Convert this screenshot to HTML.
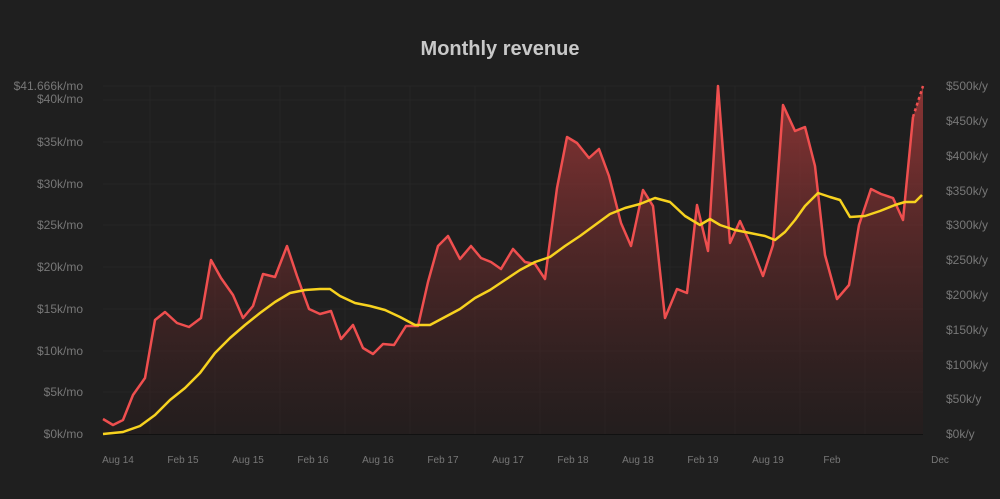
<!DOCTYPE html>
<html><head><meta charset="utf-8"><style>
html,body{margin:0;padding:0;background:#1f1f1f;}
svg{display:block;font-family:"Liberation Sans",sans-serif;}
</style></head><body>
<svg width="1000" height="499" viewBox="0 0 1000 499">
<defs>
<linearGradient id="g" x1="0" y1="86" x2="0" y2="434" gradientUnits="userSpaceOnUse">
<stop offset="0" stop-color="#a83a3a" stop-opacity="0.8"/>
<stop offset="1" stop-color="#2a1c1c" stop-opacity="0.4"/>
</linearGradient>
</defs>
<rect width="1000" height="499" fill="#1f1f1f"/>
<text x="500" y="55" text-anchor="middle" fill="#c8c8c8" font-size="20" font-weight="bold">Monthly revenue</text>
<g stroke="#262626" stroke-width="1">
<line x1="103" y1="86" x2="923" y2="86"/>
<line x1="103" y1="100" x2="923" y2="100"/><line x1="103" y1="142" x2="923" y2="142"/><line x1="103" y1="184" x2="923" y2="184"/><line x1="103" y1="225" x2="923" y2="225"/><line x1="103" y1="267" x2="923" y2="267"/><line x1="103" y1="309" x2="923" y2="309"/><line x1="103" y1="351" x2="923" y2="351"/><line x1="103" y1="392" x2="923" y2="392"/>
<line x1="150" y1="86" x2="150" y2="434"/><line x1="215" y1="86" x2="215" y2="434"/><line x1="280" y1="86" x2="280" y2="434"/><line x1="345" y1="86" x2="345" y2="434"/><line x1="410" y1="86" x2="410" y2="434"/><line x1="475" y1="86" x2="475" y2="434"/><line x1="540" y1="86" x2="540" y2="434"/><line x1="605" y1="86" x2="605" y2="434"/><line x1="670" y1="86" x2="670" y2="434"/><line x1="735" y1="86" x2="735" y2="434"/><line x1="800" y1="86" x2="800" y2="434"/><line x1="865" y1="86" x2="865" y2="434"/>
</g>
<polygon fill="url(#g)" points="103,434 103,419 113,425 123,420 133,395 145,378 155,320 165,312 177,323 189,327 201,318 211,260 221,278 233,295 243,318 253,306 263,274 275,277 287,246 297,276 309,309 320,314 331,311 341,339 353,325 363,348 373,354 383,344 394,345 406,326 418,326 428,282 438,246 448,236 460,259 471,246 481,258 491,262 501,269 513,249 525,262 535,264 545,279 557,188 567,137 577,143 589,158 599,149 609,176 621,223 631,246 643,190 653,206 665,318 677,289 687,293 697,205 708,251 718,86 730,243 740,221 750,243 763,276 773,245 783,105 795,131 805,127 815,166 825,255 837,299 849,285 859,225 871,189 881,194 893,198 903,220 913,117 923,86 923,434"/>
<line x1="103" y1="434.5" x2="923" y2="434.5" stroke="#111" stroke-width="1"/>
<polyline fill="none" stroke="#ef4f4f" stroke-width="2.5" stroke-linejoin="round" points="103,419 113,425 123,420 133,395 145,378 155,320 165,312 177,323 189,327 201,318 211,260 221,278 233,295 243,318 253,306 263,274 275,277 287,246 297,276 309,309 320,314 331,311 341,339 353,325 363,348 373,354 383,344 394,345 406,326 418,326 428,282 438,246 448,236 460,259 471,246 481,258 491,262 501,269 513,249 525,262 535,264 545,279 557,188 567,137 577,143 589,158 599,149 609,176 621,223 631,246 643,190 653,206 665,318 677,289 687,293 697,205 708,251 718,86 730,243 740,221 750,243 763,276 773,245 783,105 795,131 805,127 815,166 825,255 837,299 849,285 859,225 871,189 881,194 893,198 903,220 913,117"/>
<polyline fill="none" stroke="#ef4f4f" stroke-width="2.5" stroke-dasharray="3,3" points="913,117 923,86"/>
<polyline fill="none" stroke="#f7d21f" stroke-width="2.5" stroke-linejoin="round" points="103,434 123,432 140,426 155,415 170,400 185,388 200,373 215,353 230,338 245,325 260,313 275,302 290,293 305,290 320,289 330,289 340,296 355,303 370,306 385,310 400,317 415,325 430,325 445,317 460,309 475,298 490,290 505,280 520,270 535,262 550,257 565,246 580,236 595,225 610,214 625,208 640,204 655,198 670,202 685,216 700,225 710,219 720,225 735,230 750,233 765,236 775,240 785,232 795,220 805,206 818,193 830,197 840,200 850,217 865,216 880,211 895,205 905,202 915,202 922,195"/>
<g fill="#777" font-size="12" text-anchor="end">
<text x="83" y="90">$41.666k/mo</text>
<text x="83" y="103">$40k/mo</text><text x="83" y="146">$35k/mo</text><text x="83" y="188">$30k/mo</text><text x="83" y="229">$25k/mo</text><text x="83" y="271">$20k/mo</text><text x="83" y="313">$15k/mo</text><text x="83" y="355">$10k/mo</text><text x="83" y="396">$5k/mo</text><text x="83" y="438">$0k/mo</text>
</g>
<g fill="#777" font-size="12">
<text x="946" y="90">$500k/y</text><text x="946" y="125">$450k/y</text><text x="946" y="160">$400k/y</text><text x="946" y="195">$350k/y</text><text x="946" y="229">$300k/y</text><text x="946" y="264">$250k/y</text><text x="946" y="299">$200k/y</text><text x="946" y="334">$150k/y</text><text x="946" y="369">$100k/y</text><text x="946" y="403">$50k/y</text><text x="946" y="438">$0k/y</text>
</g>
<g fill="#777" font-size="10" text-anchor="middle">
<text x="118" y="463">Aug 14</text><text x="183" y="463">Feb 15</text><text x="248" y="463">Aug 15</text><text x="313" y="463">Feb 16</text><text x="378" y="463">Aug 16</text><text x="443" y="463">Feb 17</text><text x="508" y="463">Aug 17</text><text x="573" y="463">Feb 18</text><text x="638" y="463">Aug 18</text><text x="703" y="463">Feb 19</text><text x="768" y="463">Aug 19</text><text x="832" y="463">Feb</text><text x="940" y="463">Dec</text>
</g>
</svg>
</body></html>
